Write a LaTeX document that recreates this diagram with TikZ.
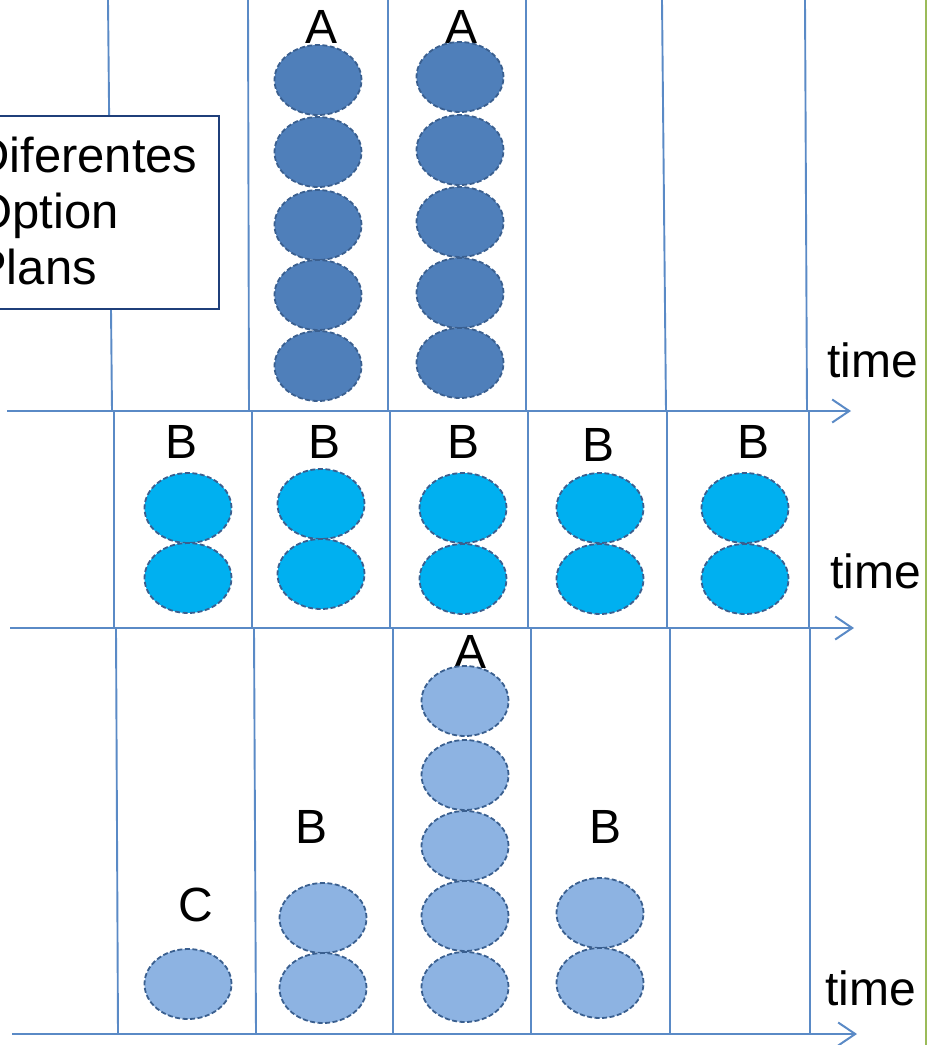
\documentclass[tikz,border=0pt]{standalone}
\usepackage{fontspec}
\setmainfont{Liberation Sans}
\usetikzlibrary{shapes.geometric,arrows.meta}
\definecolor{lineblue}{HTML}{5A8AC6}
\definecolor{rimblue}{HTML}{3A5F8F}
\definecolor{planA}{HTML}{4F7FBA}
\definecolor{planB}{HTML}{00B0F0}
\definecolor{planC}{HTML}{8DB3E2}
\definecolor{boxblue}{HTML}{1F3F7A}
\definecolor{sidegreen}{HTML}{9BBB59}
\tikzset{
    slot/.style={ellipse, minimum width=87pt, minimum height=70pt, inner sep=0pt, draw=rimblue, line width=1.8pt, dash pattern=on 5pt off 2.5pt},
    tag/.style={anchor=base, inner sep=0pt, font=\fontsize{48}{53}\selectfont},
    sepline/.style={lineblue, line width=1.9pt},
    timeaxis/.style={lineblue, line width=2pt, ->},
}
\begin{document}
\begin{tikzpicture}[x=1pt, y=-1pt, >={Straight Barb[length=17pt,width=23pt]}]
                    \useasboundingbox (0,0) rectangle (932,1045);
                    \draw [sidegreen, line width=2pt] (926,0) -- (926,1045);
                    \draw [sepline] (108,0) -- (112,411);
                    \draw [sepline] (248,0) -- (249,411);
                    \draw [sepline] (388,0) -- (388,411);
                    \draw [sepline] (526,0) -- (526,411);
                    \draw [sepline] (662,0) -- (666,411);
                    \draw [sepline] (805,0) -- (807,411);
                    \draw [sepline] (114,411) -- (114,628);
                    \draw [sepline] (252,411) -- (252,628);
                    \draw [sepline] (390,411) -- (390,628);
                    \draw [sepline] (528,411) -- (528,628);
                    \draw [sepline] (667,411) -- (667,628);
                    \draw [sepline] (809,411) -- (809,628);
                    \draw [sepline] (116,628) -- (118,1034);
                    \draw [sepline] (254,628) -- (256,1034);
                    \draw [sepline] (393,628) -- (393,1034);
                    \draw [sepline] (531,628) -- (531,1034);
                    \draw [sepline] (670,628) -- (670,1034);
                    \draw [sepline] (810,628) -- (810,1034);
                    \draw [timeaxis] (7,411) -- (851,411);
                    \draw [timeaxis] (10,628) -- (854,628);
                    \draw [timeaxis] (12,1034) -- (857,1034);
                    \node (time1) [tag, anchor=base west] at (827,377) {time};
                    \node (time2) [tag, anchor=base west] at (830,588) {time};
                    \node (time3) [tag, anchor=base west] at (825,1005) {time};
                    \node (optbox) [draw=boxblue, fill=white, line width=1.8pt, minimum width=260pt, minimum height=193pt, anchor=north east] at (220,115) {};
                    \node (plans) [anchor=north west, align=left, inner sep=0pt, font=\fontsize{49}{56}\selectfont] at (-26,137) {Diferentes\\Option\\Plans};
                    \node (labA1) [tag] at (322,43) {A};
                    \node (labA2) [tag] at (462,43) {A};
                    \node (labB1) [tag] at (182,458) {B};
                    \node (labB2) [tag] at (325,458) {B};
                    \node (labB3) [tag] at (464,458) {B};
                    \node (labB4) [tag] at (599,461) {B};
                    \node (labB5) [tag] at (754,458) {B};
                    \node (labA3) [tag] at (471,668) {A};
                    \node (labB6) [tag] at (312,843) {B};
                    \node (labB7) [tag] at (606,843) {B};
                    \node (labC) [tag] at (196,921) {C};
                    \node (a11) [slot, fill=planA] at (318,80) {};
                    \node (a12) [slot, fill=planA] at (318,152) {};
                    \node (a13) [slot, fill=planA] at (318,225) {};
                    \node (a14) [slot, fill=planA] at (318,295) {};
                    \node (a15) [slot, fill=planA] at (318,366) {};
                    \node (a21) [slot, fill=planA] at (460,77) {};
                    \node (a22) [slot, fill=planA] at (460,150) {};
                    \node (a23) [slot, fill=planA] at (460,222) {};
                    \node (a24) [slot, fill=planA] at (460,293) {};
                    \node (a25) [slot, fill=planA] at (460,363) {};
                    \node (b11) [slot, fill=planB] at (188,508) {};
                    \node (b12) [slot, fill=planB] at (188,578) {};
                    \node (b21) [slot, fill=planB] at (321,504) {};
                    \node (b22) [slot, fill=planB] at (321,574) {};
                    \node (b31) [slot, fill=planB] at (463,508) {};
                    \node (b32) [slot, fill=planB] at (463,579) {};
                    \node (b41) [slot, fill=planB] at (600,508) {};
                    \node (b42) [slot, fill=planB] at (600,579) {};
                    \node (b51) [slot, fill=planB] at (745,508) {};
                    \node (b52) [slot, fill=planB] at (745,579) {};
                    \node (c1) [slot, fill=planC] at (188,984) {};
                    \node (c21) [slot, fill=planC] at (323,918) {};
                    \node (c22) [slot, fill=planC] at (323,988) {};
                    \node (c31) [slot, fill=planC] at (465,701) {};
                    \node (c32) [slot, fill=planC] at (465,775) {};
                    \node (c33) [slot, fill=planC] at (465,846) {};
                    \node (c34) [slot, fill=planC] at (465,916) {};
                    \node (c35) [slot, fill=planC] at (465,987) {};
                    \node (c41) [slot, fill=planC] at (600,913) {};
                    \node (c42) [slot, fill=planC] at (600,983) {};
                \end{tikzpicture}
\end{document}
